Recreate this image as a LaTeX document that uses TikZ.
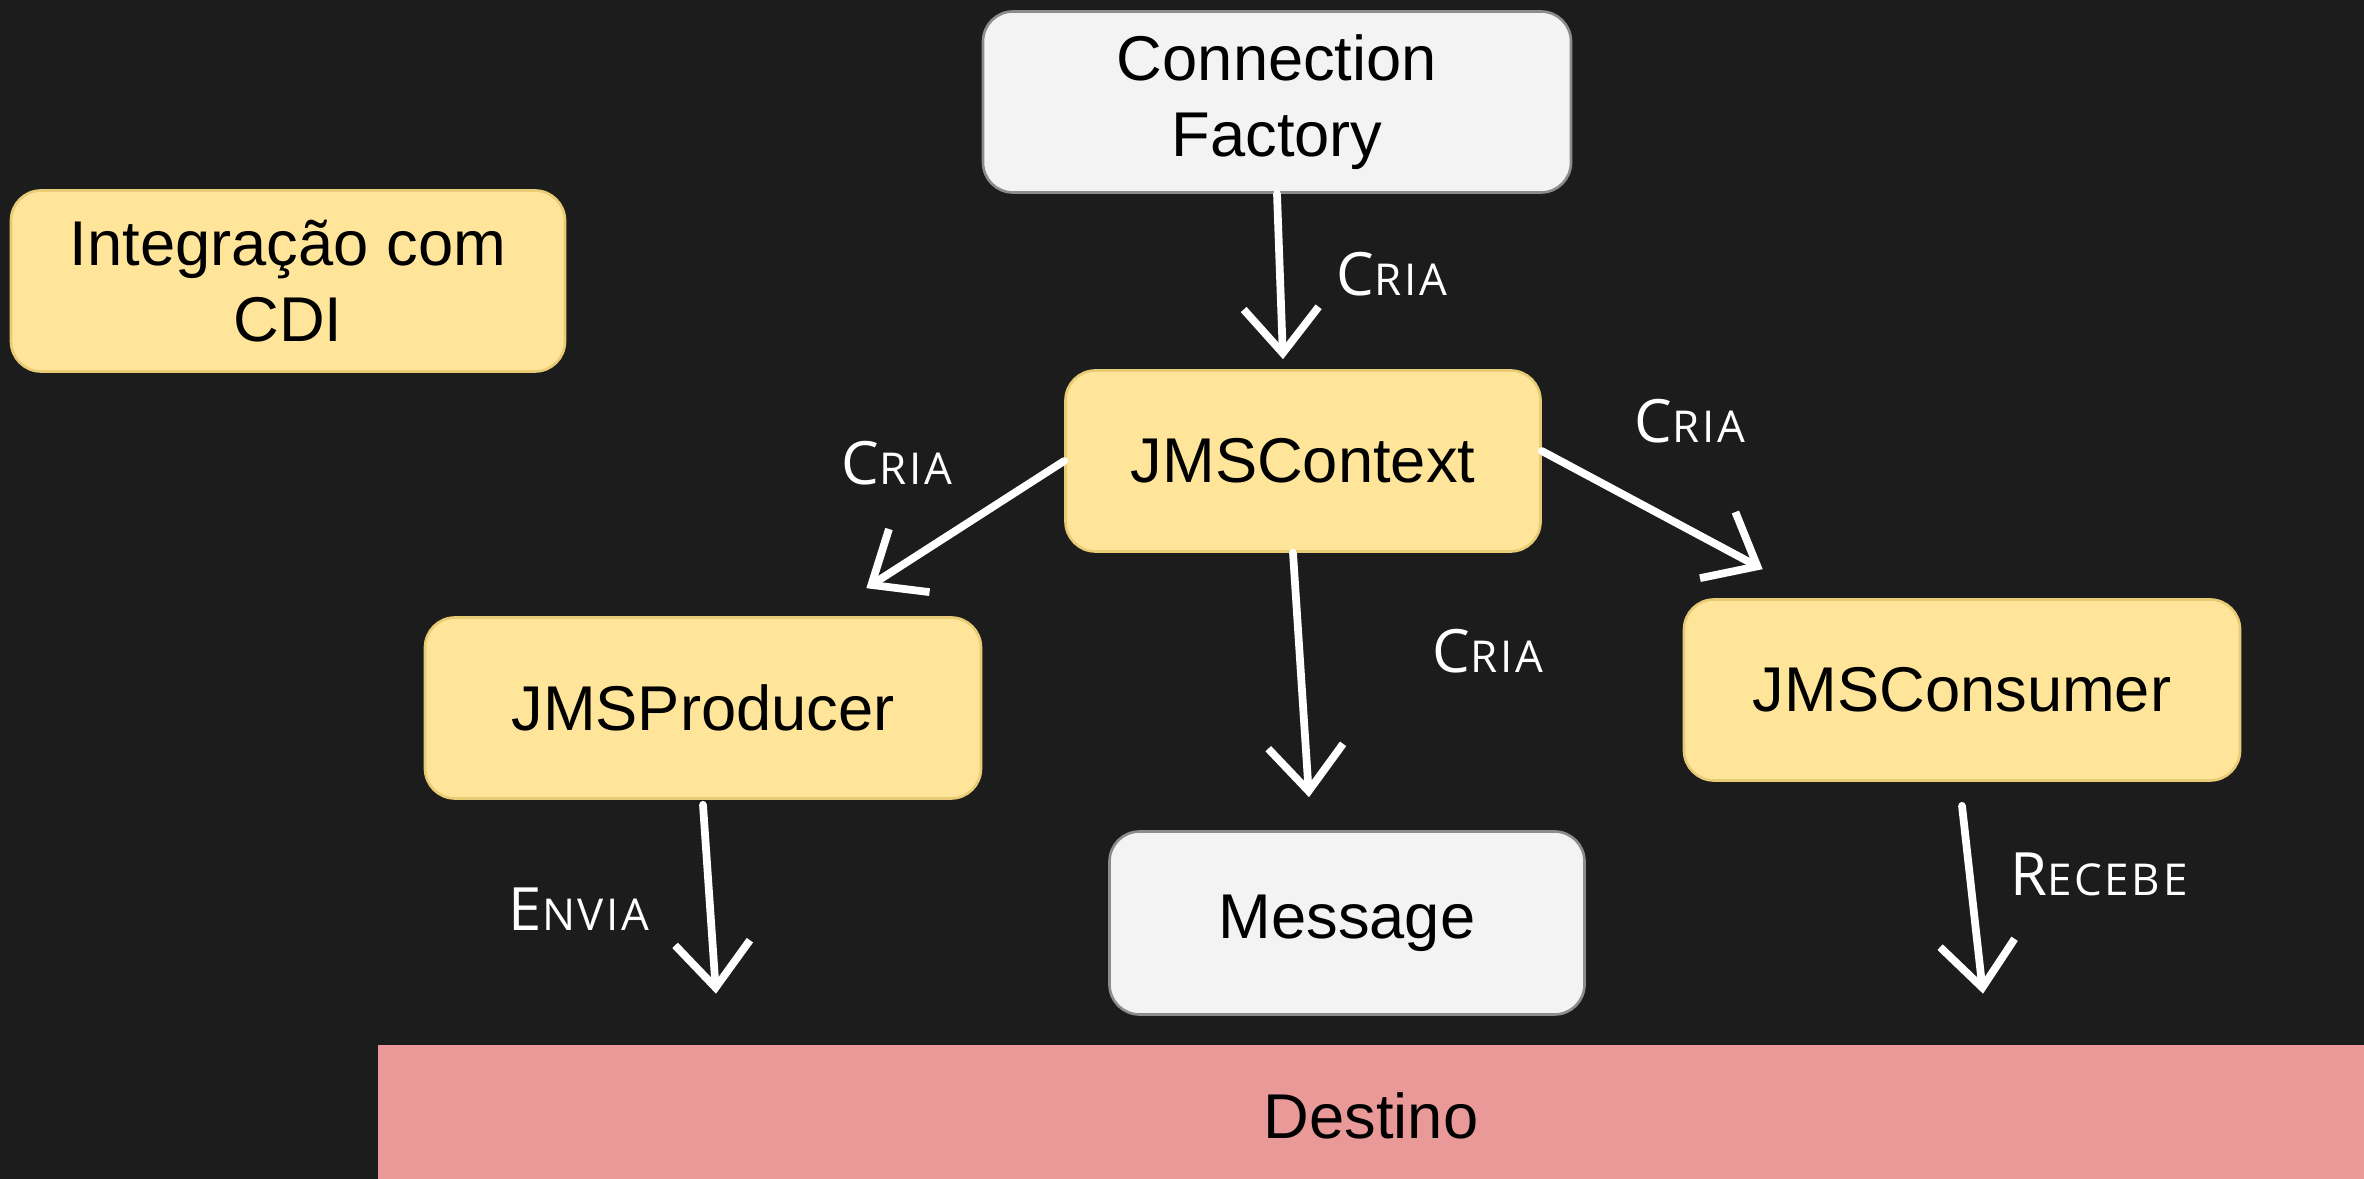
\documentclass[tikz,border=0pt]{standalone}
\usepackage{fontspec}
\setmainfont{Liberation Sans}
\newfontfamily\chalkfont[LetterSpace=6]{Open Sans}
\usetikzlibrary{arrows.meta,calc}

\definecolor{board}{HTML}{1C1C1C}
\definecolor{note}{HTML}{FFE599}
\definecolor{noteline}{HTML}{E8CB75}
\definecolor{plain}{HTML}{F3F3F3}
\definecolor{plainline}{HTML}{8C8C8C}
\definecolor{destfill}{HTML}{EA9999}

% chalk word: big initial, small caps after it
\newcommand{\verbo}[2]{{\chalkfont\fontsize{17}{17}\selectfont #1\fontsize{12.5}{12.5}\selectfont #2}}

\begin{document}
\begin{tikzpicture}
[font=\fontsize{18}{21.5}\selectfont, line width=0.75pt,
note/.style={rectangle, rounded corners=3mm, draw=noteline, fill=note, align=center, inner sep=0pt, minimum width=5.56cm, minimum height=1.81cm},
plainbox/.style={rectangle, rounded corners=3mm, draw=plainline, fill=plain, align=center, inner sep=0pt, minimum width=4.75cm, minimum height=1.81cm},
chalk/.style={draw=white, line width=2.2pt, line cap=round, -{Straight Barb[length=4.5mm, width=7.5mm]}},
verb/.style={text=white, inner sep=0pt}]

\fill[board] (0,0) rectangle (23.64,-11.79);
\useasboundingbox (0,0) rectangle (23.64,-11.79);

\node[plainbox, minimum width=5.88cm] (cf) at (12.77,-1.02) {Connection\\Factory};
\node[note, minimum width=5.54cm] (cdi) at (2.88,-2.81) {Integração com\\CDI};
\node[note, minimum width=4.75cm] (ctx) at (13.03,-4.61) {JMSContext};
\node[note] (prod) at (7.03,-7.08) {JMSProducer};
\node[note] (cons) at (19.62,-6.90) {JMSConsumer};
\node[plainbox, minimum height=1.83cm] (msg) at (13.47,-9.23) {Message};
\node[rectangle, fill=destfill, inner sep=0pt, minimum width=19.86cm, minimum height=1.42cm] (dest) at (13.71,-11.16) {Destino};

\draw[chalk] (cf.south) -- ([xshift=-2mm, yshift=1mm]ctx.north);
\draw[chalk] (ctx.west) -- ([xshift=-11.6mm, yshift=2.8mm]prod.north east);
\draw[chalk] ([yshift=1mm]ctx.east) -- ([xshift=8mm, yshift=2.9mm]cons.north west);
\draw[chalk] ([xshift=-1mm]ctx.south) -- ([xshift=-3.8mm, yshift=3.3mm]msg.north);
\draw[chalk] ([yshift=-0.5mm]prod.south) -- ($(prod.south |- dest.north)+(0.13,0.5)$);
\draw[chalk] ([yshift=-2.4mm]cons.south) -- ($(cons.south |- dest.north)+(0.21,0.5)$);

\node[verb] (cria1) at (13.92,-2.74) {\verbo{C}{RIA}};
\node[verb] (cria2) at (8.97,-4.63) {\verbo{C}{RIA}};
\node[verb] (cria3) at (16.90,-4.21) {\verbo{C}{RIA}};
\node[verb] (cria4) at (14.88,-6.51) {\verbo{C}{RIA}};
\node[verb] (envia) at (5.79,-9.09) {\verbo{E}{NVIA}};
\node[verb] (recebe) at (20.99,-8.74) {\verbo{R}{ECEBE}};
\end{tikzpicture}
\end{document}
